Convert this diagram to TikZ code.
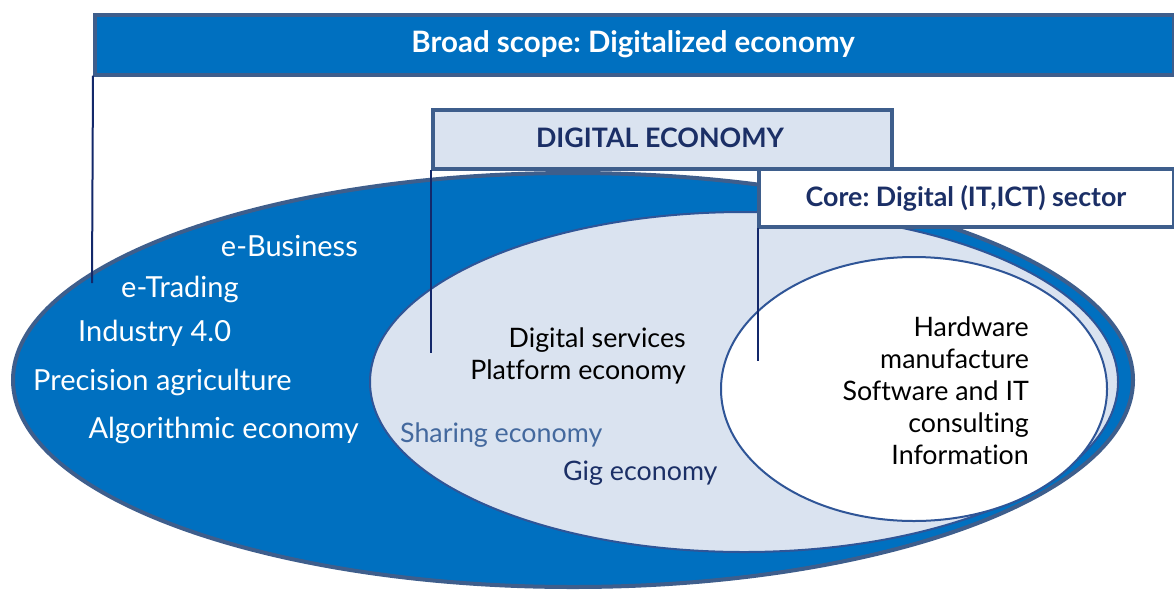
\documentclass[tikz,border=0pt]{standalone}
\usepackage{fontspec}
\setmainfont{Lato}[Ligatures={NoCommon}]
\usetikzlibrary{calc}
\definecolor{scopeblue}{HTML}{0070C0}
\definecolor{edgeblue}{HTML}{3E5E8C}
\definecolor{paleblue}{HTML}{DAE3F0}
\definecolor{ringblue}{HTML}{2F5597}
\definecolor{navy}{HTML}{1B2F66}
\definecolor{linknavy}{HTML}{13286A}
\definecolor{steel}{HTML}{44699E}
\frenchspacing
\tikzset{
  banner/.style={draw=edgeblue, line width=3.5pt, rectangle, inner sep=0pt, anchor=north west},
  link/.style={draw=linknavy, line width=2pt},
  whitetxt/.style={text=white, font=\fontsize{29}{32}\selectfont, inner sep=0pt},
  darktxt/.style={text=black, font=\fontsize{26.8}{32}\selectfont, inner sep=0pt},
  headtxt/.style={font=\bfseries\fontsize{26.8}{30}\selectfont}
}
\begin{document}
\begin{tikzpicture}[x=1pt,y=-1pt]
\useasboundingbox (0,0) rectangle (1174,590);

% nested scopes of the economy
\fill[scopeblue, draw=edgeblue, line width=4pt] (573,380) ellipse [x radius=560pt, y radius=207pt];
\fill[paleblue, draw=ringblue, line width=2pt] (744,382) ellipse [x radius=374pt, y radius=170pt];
\fill[white, draw=ringblue, line width=2pt] (914,389) ellipse [x radius=193pt, y radius=132pt];

% headline boxes
\node[banner, fill=scopeblue, minimum width=1079pt, minimum height=60pt] (broad) at (93,13) {};
\node[headtxt, font=\bfseries\fontsize{29.5}{30}\selectfont, text=white] at (633,44) {Broad scope: Digitalized economy};

\node[banner, fill=paleblue, minimum width=459pt, minimum height=59pt] (digital) at (431,108) {};
\node[headtxt, text=navy] at (660,138) {DIGITAL ECONOMY};

\node[banner, fill=white, minimum width=415pt, minimum height=58pt] (core) at (757,167) {};
\node[headtxt, text=navy] at (966,198) {Core: Digital (IT,ICT) sector};

% leader lines from each box down into its area
\coordinate (broadEnd) at (92,283);
\coordinate (digitalEnd) at (431,353);
\coordinate (coreEnd) at (758,361);
\draw[link] ($(broad.south west)+(0,-1)$) -- (broadEnd);
\draw[link] ($(digital.south west)+(0,-1)$) -- (digitalEnd);
\draw[link] ($(core.south west)+(1,-1)$) -- (coreEnd);

% broad scope examples
\node[whitetxt, anchor=east] (ebus) at (358,246) {e-Business};
\node[whitetxt, anchor=west] (etrad) at (121,289) {e-Trading};
\node[whitetxt, anchor=west] (ind) at (78,333) {Industry 4.0};
\node[whitetxt, anchor=west] (prec) at (33,382) {Precision agriculture};
\node[whitetxt, anchor=east] (algo) at (359,430) {Algorithmic economy};

% digital economy examples
\node[darktxt, anchor=east, align=right] (serv) at (686,356) {Digital services\\Platform economy};
\node[darktxt, text=steel, anchor=west] (share) at (400,435) {Sharing economy};
\node[darktxt, text=navy, anchor=west] (gig) at (563,473) {Gig economy};

% core sector examples
\node[darktxt, anchor=east, align=right] (coretxt) at (1029,391)
  {Hardware\\manufacture\\Software and IT\\consulting\\Information};
\end{tikzpicture}
\end{document}
